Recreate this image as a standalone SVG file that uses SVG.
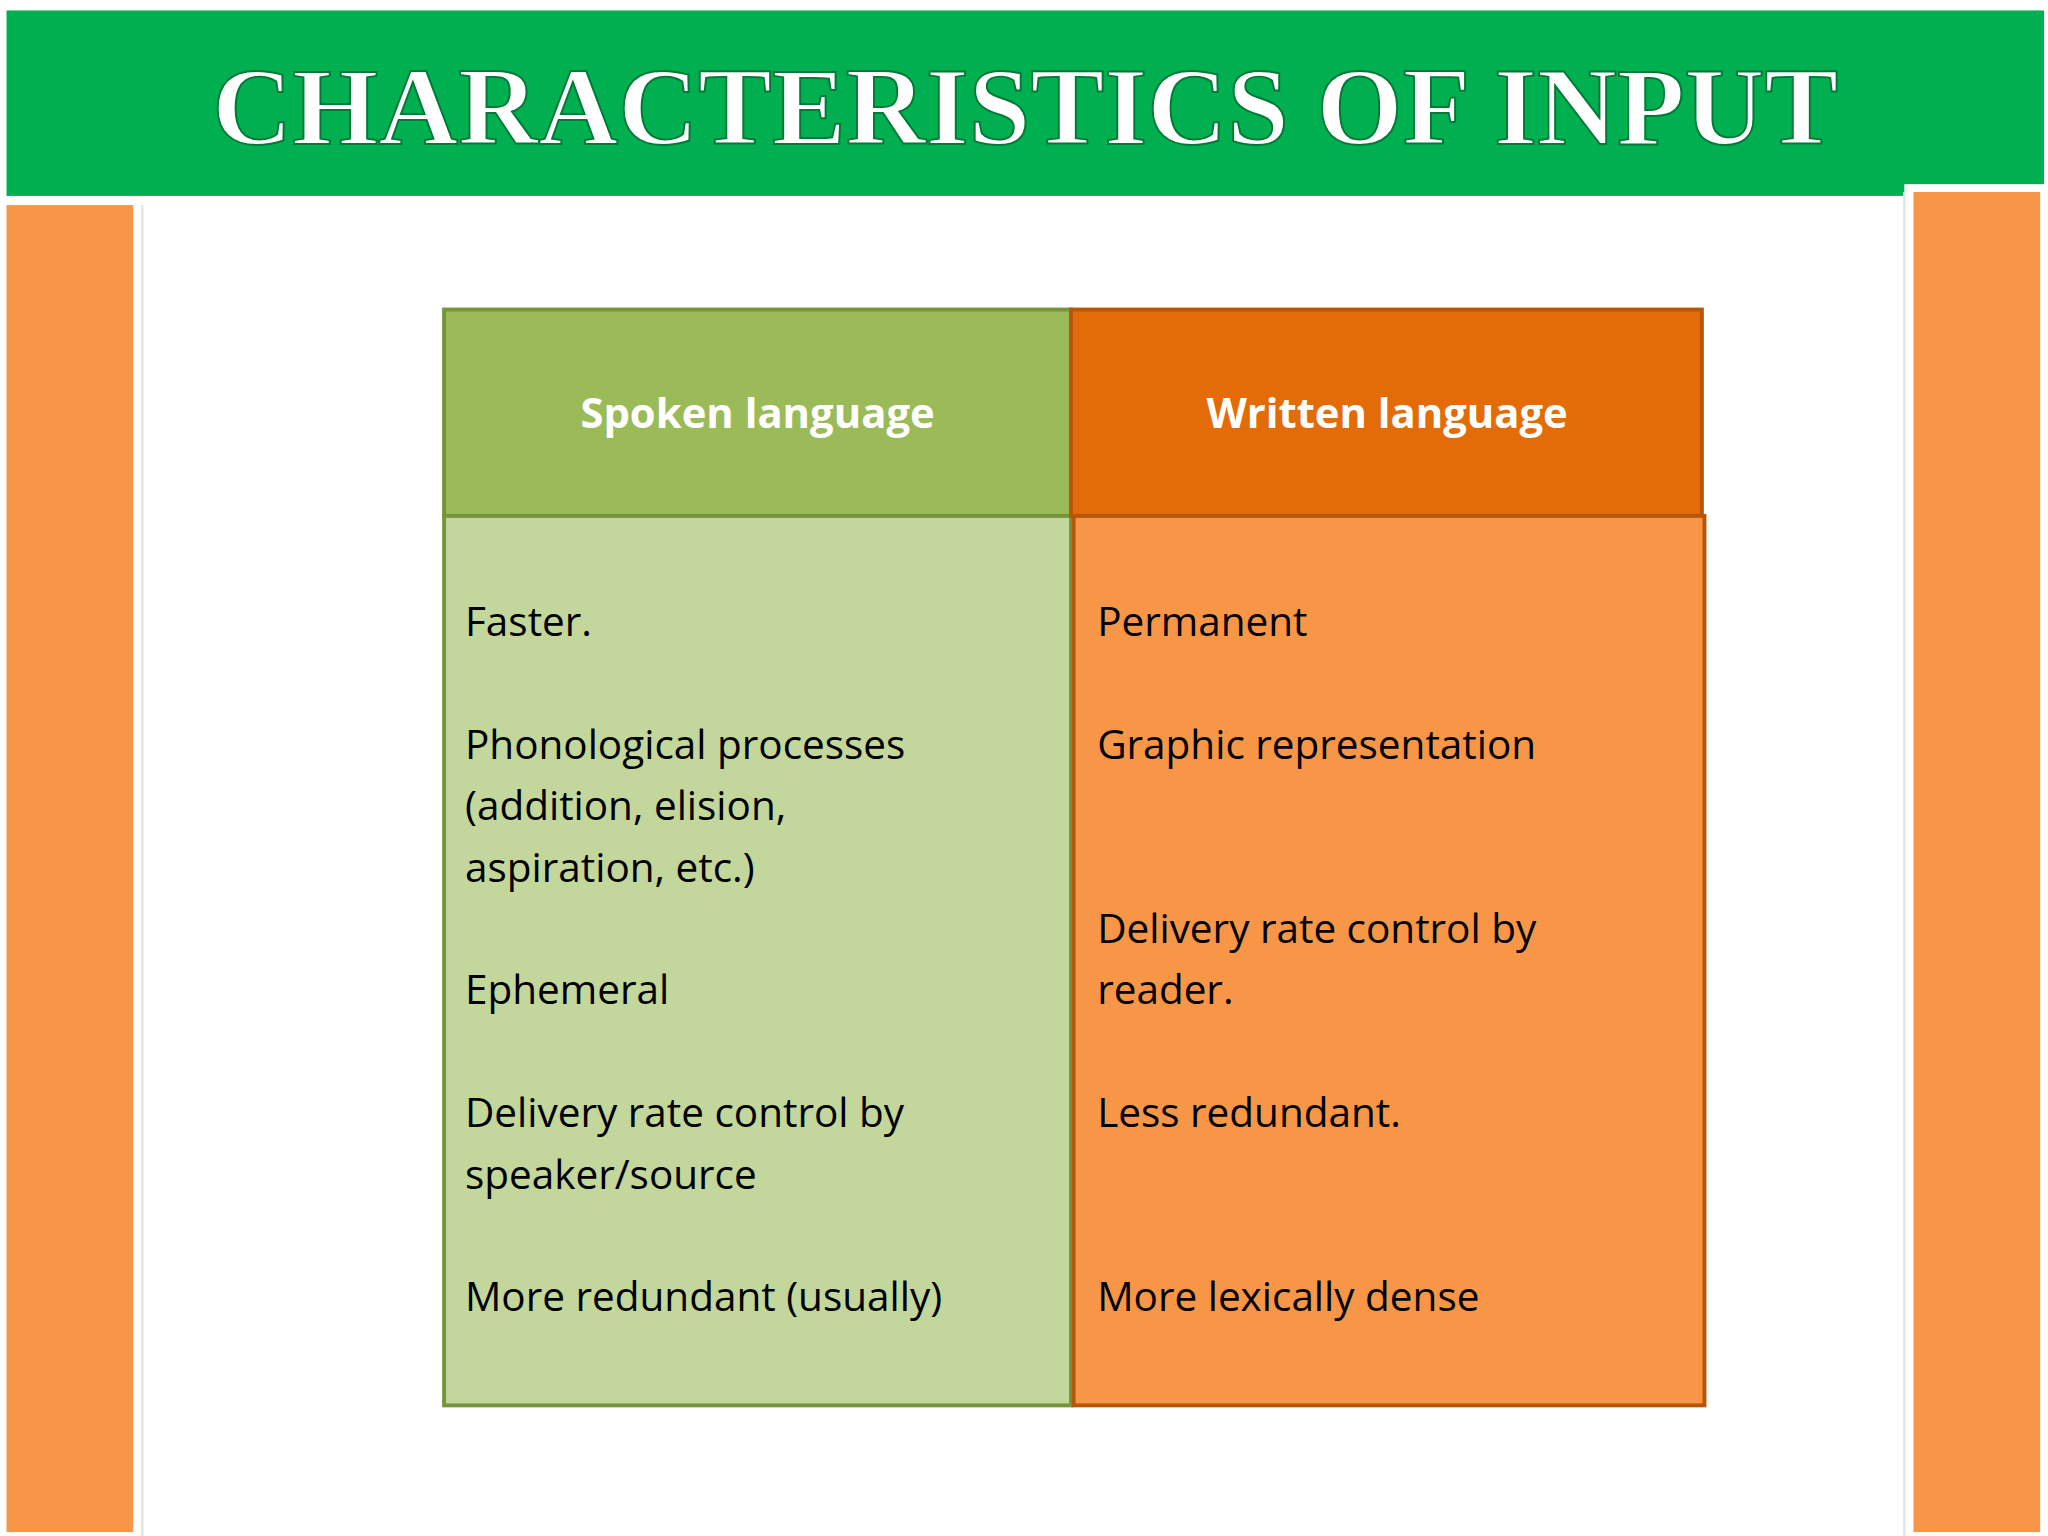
<svg xmlns="http://www.w3.org/2000/svg" width="2048" height="1536" viewBox="0 0 2048 1536">
<style>
.b{font-family:"Open Sans","Liberation Sans",sans-serif;font-size:31px;fill:#000}
.h{font-family:"Open Sans","Liberation Sans",sans-serif;font-size:32px;font-weight:bold;fill:#fff;text-anchor:middle}
</style>
<rect width="2048" height="1536" fill="#fff"/>
<g transform="scale(1.30612)">
<g id="header">
<rect x="5" y="8" width="1560" height="142" fill="#00B050"/>
<rect x="1458" y="141" width="110" height="12" fill="#fff"/>
<text x="785" y="110" text-anchor="middle" textLength="1245" lengthAdjust="spacingAndGlyphs" font-family="Liberation Serif,serif" font-weight="bold" font-size="84" fill="#fff" stroke="#007a38" stroke-width="1.5">CHARACTERISTICS OF INPUT</text>
</g>
<g id="sidebars">
<rect x="5" y="157" width="97" height="1016" fill="#F79646"/>
<line x1="109" y1="157" x2="109" y2="1176" stroke="#e6e6e6" stroke-width="2"/>
<rect x="1465" y="147" width="97" height="1026" fill="#F79646"/>
<line x1="1458" y1="147" x2="1458" y2="1176" stroke="#e6e6e6" stroke-width="2"/>
</g>
<g id="spoken">
<rect x="340" y="237" width="480" height="158" fill="#9BBB59" stroke="#77933C" stroke-width="3"/>
<rect x="340" y="395" width="480" height="681" fill="#C3D69B" stroke="#77933C" stroke-width="3"/>
<text class="h" x="580" y="328">Spoken language</text>
<text class="b" x="356" y="487">Faster.</text>
<text class="b" x="356" y="581">Phonological processes</text>
<text class="b" x="356" y="628">(addition, elision,</text>
<text class="b" x="356" y="675">aspiration, etc.)</text>
<text class="b" x="356" y="769">Ephemeral</text>
<text class="b" x="356" y="863">Delivery rate control by</text>
<text class="b" x="356" y="910">speaker/source</text>
<text class="b" x="356" y="1004">More redundant (usually)</text>
</g>
<g id="written">
<rect x="820" y="237" width="483" height="158" fill="#E36C09" stroke="#B65708" stroke-width="3"/>
<rect x="822" y="395" width="483" height="681" fill="#F79646" stroke="#B65708" stroke-width="3"/>
<text class="h" x="1062" y="328">Written language</text>
<text class="b" x="840" y="487">Permanent</text>
<text class="b" x="840" y="581">Graphic representation</text>
<text class="b" x="840" y="722">Delivery rate control by</text>
<text class="b" x="840" y="769">reader.</text>
<text class="b" x="840" y="863">Less redundant.</text>
<text class="b" x="840" y="1004">More lexically dense</text>
</g>
<g id="connectors"/>
</g>
</svg>
